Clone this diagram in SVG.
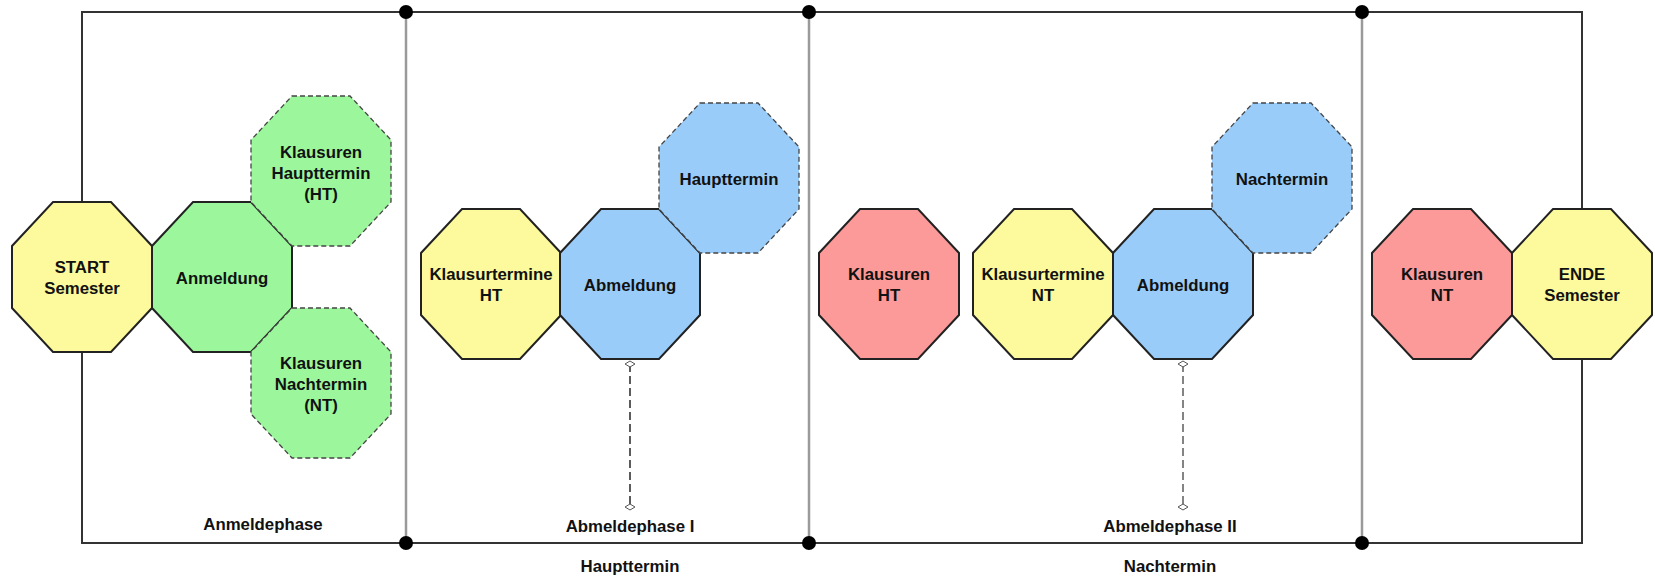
<svg xmlns="http://www.w3.org/2000/svg" width="1655" height="577" viewBox="0 0 1655 577">
<style>
text{font-family:"Liberation Sans",Arial,sans-serif;font-weight:bold;font-size:16.8px;fill:#111;text-anchor:middle}
.oct{stroke:#222;stroke-width:2;stroke-linejoin:miter}
.dash{stroke:#444;stroke-width:1.3;stroke-dasharray:5 3}
.y{fill:#FCFA9C}.g{fill:#9CF79C}.b{fill:#9ACCF9}.r{fill:#FC9A9A}
.frame{fill:none;stroke:#333;stroke-width:2}
.sep{stroke:#9a9a9a;stroke-width:2.5}
.dot{fill:#000}
.conn{stroke:#333;stroke-width:1.6;stroke-dasharray:8 4;marker-start:url(#dia);marker-end:url(#dia)}
</style>
<defs>
<polygon id="octp" points="41,0 99,0 140,44 140,106 99,150 41,150 0,106 0,44"/>
<marker id="dia" viewBox="0 0 8 12" refX="4" refY="6" markerWidth="8" markerHeight="12" markerUnits="userSpaceOnUse" orient="auto">
<polygon points="4,1 7,6 4,11 1,6" fill="#fff" stroke="#555" stroke-width="1"/>
</marker>
</defs>
<rect width="1655" height="577" fill="#fff"/>
<g id="frame">
<line class="sep" x1="406" y1="12" x2="406" y2="543"/>
<line class="sep" x1="809" y1="12" x2="809" y2="543"/>
<line class="sep" x1="1362" y1="12" x2="1362" y2="543"/>
<polyline class="frame" points="82,202 82,12 1582,12 1582,209"/>
<polyline class="frame" points="82,351 82,543 1582,543 1582,359"/>
<circle class="dot" cx="406" cy="12" r="7"/>
<circle class="dot" cx="809" cy="12" r="7"/>
<circle class="dot" cx="1362" cy="12" r="7"/>
<circle class="dot" cx="406" cy="543" r="7"/>
<circle class="dot" cx="809" cy="543" r="7"/>
<circle class="dot" cx="1362" cy="543" r="7"/>
</g>
<g id="connectors">
<line class="conn" x1="630" y1="364" x2="630" y2="507"/>
<line class="conn" x1="1183" y1="364" x2="1183" y2="507" style="stroke:#666"/>
</g>
<g id="start"><use href="#octp" x="12" y="202" class="oct y"/><text x="82" y="273">START</text><text x="82" y="294">Semester</text></g>
<g id="anmeldung"><use href="#octp" x="152" y="202" class="oct g"/><text x="222" y="284">Anmeldung</text></g>
<g id="klausuren-ht-green"><use href="#octp" x="251" y="96" class="dash g"/><text x="321" y="158">Klausuren</text><text x="321" y="179">Haupttermin</text><text x="321" y="200">(HT)</text></g>
<g id="klausuren-nt-green"><use href="#octp" x="251" y="308" class="dash g"/><text x="321" y="369">Klausuren</text><text x="321" y="390">Nachtermin</text><text x="321" y="411">(NT)</text></g>
<g id="klausurtermine-ht"><use href="#octp" x="421" y="209" class="oct y"/><text x="491" y="280">Klausurtermine</text><text x="491" y="301">HT</text></g>
<g id="abmeldung1"><use href="#octp" x="560" y="209" class="oct b"/><text x="630" y="291">Abmeldung</text></g>
<g id="haupttermin"><use href="#octp" x="659" y="103" class="dash b"/><text x="729" y="185">Haupttermin</text></g>
<g id="klausuren-ht-red"><use href="#octp" x="819" y="209" class="oct r"/><text x="889" y="280">Klausuren</text><text x="889" y="301">HT</text></g>
<g id="klausurtermine-nt"><use href="#octp" x="973" y="209" class="oct y"/><text x="1043" y="280">Klausurtermine</text><text x="1043" y="301">NT</text></g>
<g id="abmeldung2"><use href="#octp" x="1113" y="209" class="oct b"/><text x="1183" y="291">Abmeldung</text></g>
<g id="nachtermin"><use href="#octp" x="1212" y="103" class="dash b"/><text x="1282" y="185">Nachtermin</text></g>
<g id="klausuren-nt-red"><use href="#octp" x="1372" y="209" class="oct r"/><text x="1442" y="280">Klausuren</text><text x="1442" y="301">NT</text></g>
<g id="ende"><use href="#octp" x="1512" y="209" class="oct y"/><text x="1582" y="280">ENDE</text><text x="1582" y="301">Semester</text></g>
<g id="labels">
<text x="263" y="530">Anmeldephase</text>
<text x="630" y="532">Abmeldephase I</text>
<text x="1170" y="532">Abmeldephase II</text>
<text x="630" y="572">Haupttermin</text>
<text x="1170" y="572">Nachtermin</text>
</g>
</svg>
